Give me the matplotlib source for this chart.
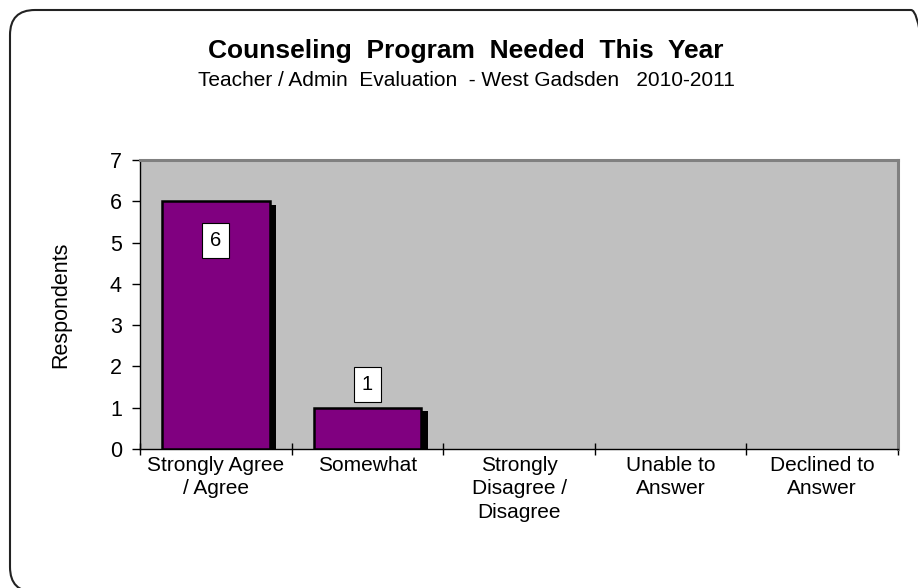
import matplotlib
matplotlib.use("Agg")
import matplotlib.pyplot as plt
from matplotlib.patches import PathPatch
from matplotlib.path import Path
from matplotlib.transforms import IdentityTransform

plt.rcParams["font.family"] = ["Liberation Sans", "DejaVu Sans"]

categories = [
    "Strongly Agree\n/ Agree",
    "Somewhat",
    "Strongly\nDisagree /\nDisagree",
    "Unable to\nAnswer",
    "Declined to\nAnswer",
]
respondents = [6, 1, 0, 0, 0]
# label offsets (points) from the bar top, as placed in the original workbook
label_offsets = [-28, 17, 0, 0, 0]

BAR_COLOR = "#800080"
PLOT_BG = "#c0c0c0"

W, H = 918, 588
fig = plt.figure(figsize=(W / 100, H / 100), dpi=100)
fig.patch.set_facecolor("white")


def rounded_rect(x0, y0, x1, y1, r):
    verts = [
        (x0 + r, y0), (x1 - r, y0), (x1, y0), (x1, y0 + r),
        (x1, y1 - r), (x1, y1), (x1 - r, y1),
        (x0 + r, y1), (x0, y1), (x0, y1 - r),
        (x0, y0 + r), (x0, y0), (x0 + r, y0),
    ]
    codes = [
        Path.MOVETO, Path.LINETO, Path.CURVE3, Path.CURVE3,
        Path.LINETO, Path.CURVE3, Path.CURVE3,
        Path.LINETO, Path.CURVE3, Path.CURVE3,
        Path.LINETO, Path.CURVE3, Path.CURVE3,
    ]
    return Path(verts, codes)


# rounded slide frame in pixel space, running past the right and bottom edges
frame = PathPatch(rounded_rect(10, -4, 936, H - 10, 25),
                  transform=IdentityTransform(), facecolor="none",
                  edgecolor="#222222", linewidth=1.5)
fig.add_artist(frame)

ax = fig.add_axes([140 / W, (H - 449) / H, 758 / W, 289 / H])
ax.set_facecolor(PLOT_BG)

x = list(range(len(categories)))
width = 0.71
shadow_dx = 0.045
shadow_dy = 0.09

xs = [xi for xi, v in zip(x, respondents) if v > 0]
vals = [v for v in respondents if v > 0]

# drop shadow behind each bar
ax.bar([xi + shadow_dx for xi in xs], [v - shadow_dy for v in vals],
       width=width, color="black", zorder=2)
ax.bar(xs, vals, width=width, color=BAR_COLOR, edgecolor="black",
       linewidth=1.8, zorder=3)

for xi, val, off in zip(x, respondents, label_offsets):
    if val <= 0:
        continue
    ax.annotate(
        str(val), (xi, val), xytext=(0, off), textcoords="offset points",
        ha="center", va="center", fontsize=14.5, zorder=5,
        bbox=dict(boxstyle="square,pad=0.4", facecolor="white",
                  edgecolor="black", linewidth=0.8),
    )

ax.set_xlim(-0.5, len(categories) - 0.5)
ax.set_ylim(0, 7)
ax.set_yticks(range(0, 8))
ax.set_xticks([i + 0.5 for i in range(-1, len(categories))])
ax.set_xticklabels([])
ax.set_xticks(x, minor=True)
ax.set_xticklabels(categories, minor=True, fontsize=15, va="top",
                   linespacing=1.3)
ax.tick_params(axis="x", which="major", length=8, direction="inout",
               width=1, color="black")
ax.tick_params(axis="x", which="minor", length=0, pad=5)
ax.tick_params(axis="y", length=6, direction="out", width=1,
               labelsize=15.5, pad=7)

ax.spines["left"].set_color("black")
ax.spines["bottom"].set_color("black")
ax.spines["top"].set_color("#808080")
ax.spines["right"].set_color("#808080")
ax.spines["top"].set_linewidth(2.2)
ax.spines["right"].set_linewidth(2.2)
ax.spines["left"].set_linewidth(1)
ax.spines["bottom"].set_linewidth(1)

ax.set_ylabel("Respondents", fontsize=15.5, labelpad=28)

fig.text(466 / W, 1 - 51 / H, "Counseling  Program  Needed  This  Year",
         ha="center", va="center", fontsize=19, fontweight="bold")
fig.text(466 / W, 1 - 80 / H,
         "Teacher / Admin  Evaluation  - West Gadsden   2010-2011",
         ha="center", va="center", fontsize=15)

fig.savefig("out.png", dpi=100, facecolor=fig.get_facecolor())
